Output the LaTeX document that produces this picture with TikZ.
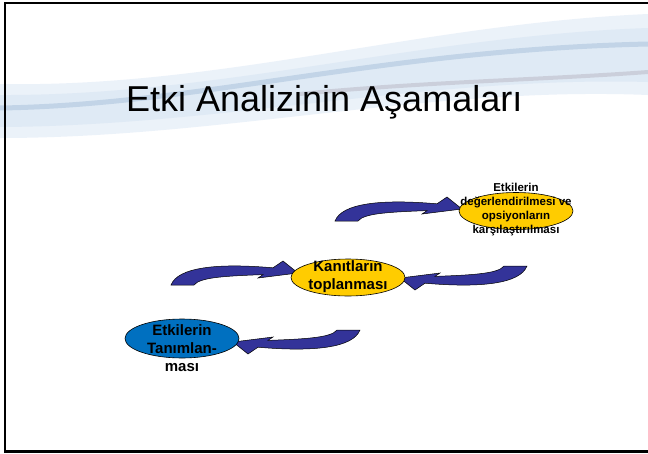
\documentclass[tikz,border=0pt]{standalone}
\usepackage{fontspec}
\setmainfont{Liberation Sans}
\usetikzlibrary{shapes.geometric,calc}
\definecolor{arrowblue}{HTML}{333399}
\definecolor{ellyellow}{HTML}{FFCC00}
\definecolor{ellblue}{HTML}{0070C0}
\definecolor{hazeblue}{HTML}{DCE8F5}
\definecolor{streakblue}{HTML}{AFC6DE}
\definecolor{streakgray}{HTML}{B8B6C2}
\tikzset{
  ellbase/.style={ellipse, draw=black, line width=0.6pt, inner sep=0pt, minimum width=114pt},
  yellell/.style={ellbase, fill=ellyellow, minimum height=37pt},
  blueell/.style={ellbase, fill=ellblue, minimum height=39pt},
  bigtxt/.style={font=\bfseries\fontsize{15}{18}\selectfont, align=center, inner sep=0pt},
  smalltxt/.style={font=\bfseries\fontsize{11.5}{14.3}\selectfont, align=center, inner sep=0pt},
  arrowfill/.style={fill=arrowblue, draw=black, line width=0.5pt, line join=miter},
  curvarrow/.pic={
    \path[arrowfill] (127,-12) .. controls (120,6) and (80,10) .. (25,5.2)
      -- (15,12) -- (0,0) -- (40,-5) -- (35,-1.6)
      .. controls (70,-3) and (98,-4) .. (104,-12) -- cycle;
  }
}
\begin{document}
\begin{tikzpicture}[x=1pt,y=-1pt]
\useasboundingbox (0,0) rectangle (648,453);
\clip (0,0) rectangle (648,453);
\fill[white] (0,0) rectangle (648,453);
% background swoosh
\fill[hazeblue, opacity=0.55] (0,84) .. controls (220,88) and (420,24) .. (648,14) -- (648,95) .. controls (430,86) and (220,138) .. (0,138) -- cycle;
\fill[hazeblue, opacity=0.8] (0,95) .. controls (220,96) and (420,36) .. (648,28) -- (648,82) .. controls (430,76) and (220,126) .. (0,127) -- cycle;
\draw[streakblue, line width=5pt, opacity=0.6] (0,108) .. controls (200,105) and (380,50) .. (648,44);
\draw[streakgray, line width=4pt, opacity=0.5] (300,94) .. controls (420,82) and (540,80) .. (648,72);
% frame
\draw[black, line width=2.4pt] (5,2.8) rectangle (652,451.4);
% title
\node[anchor=base west, font=\fontsize{36}{40}\selectfont, inner sep=0pt] (title) at (126,111) {Etki Analizinin Aşamaları};
% ellipse centres and arrow tips
\coordinate (c3) at (516,211);
\coordinate (c2) at (348,277.5);
\coordinate (c1) at (182,338.5);
\coordinate (t1) at ($(c3)+(-54,-2)$);
\coordinate (t2) at ($(c2)+(-50,-4.5)$);
\coordinate (t3) at ($(c2)+(52,0.5)$);
\coordinate (t4) at ($(c1)+(51,3.5)$);
\pic[rotate=180] at (t1) {curvarrow};
\pic[rotate=180] at (t2) {curvarrow};
\pic at (t3) {curvarrow};
\pic at (t4) {curvarrow};
% ellipses
\node[yellell] (e3) at (c3) {};
\node[yellell] (e2) at (c2) {};
\node[blueell] (e1) at (c1) {};
% texts
\node[smalltxt] (l3) at ($(e3.center)+(0,-1.5)$) {Etkilerin\\değerlendirilmesi ve\\opsiyonların\\karşılaştırılması};
\node[bigtxt] (l2) at ($(e2.center)+(0,-1)$) {Kanıtların\\toplanması};
\node[bigtxt] (l1) at ($(e1.center)+(0,10)$) {Etkilerin\\Tanımlan-\\ması};
\end{tikzpicture}
\end{document}
